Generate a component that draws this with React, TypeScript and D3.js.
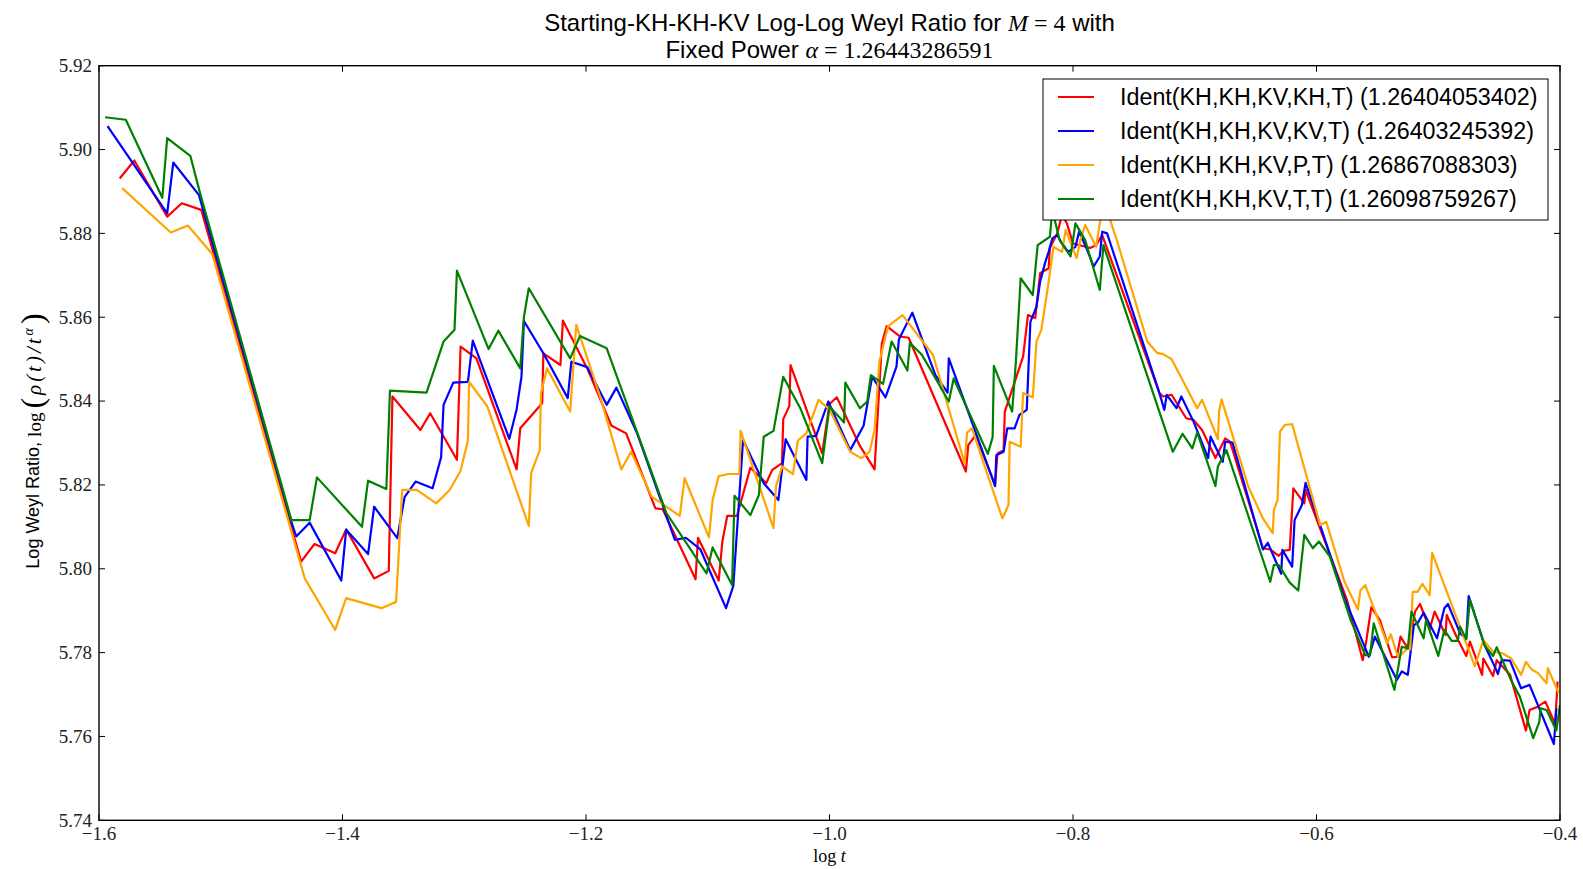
import * as d3 from "d3"

type Pt = [number, number]

const xTicks = [-1.6, -1.4, -1.2, -1.0, -0.8, -0.6, -0.4]
const yTicks = [5.74, 5.76, 5.78, 5.8, 5.82, 5.84, 5.86, 5.88, 5.9, 5.92]

const legendLabels = [
  "Ident(KH,KH,KV,KH,T) (1.26404053402)",
  "Ident(KH,KH,KV,KV,T) (1.26403245392)",
  "Ident(KH,KH,KV,P,T) (1.26867088303)",
  "Ident(KH,KH,KV,T,T) (1.26098759267)",
]
const colors = ["#ff0000", "#0000ff", "#ffa500", "#008000"]

// log t, log Weyl ratio
const redPts: Pt[] = [
  [-1.583, 5.8931], [-1.571, 5.8974], [-1.544, 5.884], [-1.532, 5.8872], [-1.516, 5.8856],
  [-1.434, 5.8017], [-1.423, 5.8059], [-1.406, 5.8037], [-1.397, 5.8094], [-1.374, 5.7977],
  [-1.362, 5.7995], [-1.359, 5.8411], [-1.336, 5.8331], [-1.328, 5.8371], [-1.306, 5.826],
  [-1.303, 5.853], [-1.29, 5.8502], [-1.257, 5.8237], [-1.254, 5.8335], [-1.236, 5.8395],
  [-1.235, 5.8514], [-1.221, 5.8486], [-1.219, 5.8592], [-1.199, 5.8478], [-1.179, 5.8341],
  [-1.167, 5.8323], [-1.143, 5.8144], [-1.137, 5.8142], [-1.11, 5.7975], [-1.108, 5.8074],
  [-1.091, 5.7972], [-1.088, 5.8065], [-1.084, 5.8126], [-1.076, 5.8126], [-1.065, 5.8241],
  [-1.052, 5.8204], [-1.047, 5.8236], [-1.039, 5.8252], [-1.038, 5.8357], [-1.033, 5.8388],
  [-1.032, 5.8486], [-1.006, 5.8275], [-1.0, 5.8393], [-0.994, 5.8409], [-0.975, 5.8293],
  [-0.963, 5.8237], [-0.957, 5.8538], [-0.953, 5.8579], [-0.942, 5.8554], [-0.935, 5.8551],
  [-0.888, 5.8232], [-0.886, 5.8295], [-0.88, 5.8319], [-0.864, 5.82], [-0.862, 5.8275],
  [-0.857, 5.8283], [-0.856, 5.8375], [-0.841, 5.8506], [-0.837, 5.8605], [-0.831, 5.8598],
  [-0.827, 5.8705], [-0.82, 5.8717], [-0.819, 5.8765], [-0.813, 5.88], [-0.809, 5.8844],
  [-0.805, 5.8824], [-0.8, 5.8776], [-0.786, 5.8765], [-0.781, 5.8772], [-0.776, 5.8796],
  [-0.729, 5.8419], [-0.726, 5.8411], [-0.719, 5.8415], [-0.707, 5.8359], [-0.701, 5.8355],
  [-0.694, 5.8331], [-0.683, 5.8264], [-0.675, 5.8311], [-0.671, 5.8303], [-0.644, 5.8049],
  [-0.638, 5.8046], [-0.631, 5.8031], [-0.627, 5.8043], [-0.622, 5.8045], [-0.619, 5.8192],
  [-0.61, 5.8156], [-0.609, 5.8188], [-0.575, 5.7926], [-0.562, 5.7782], [-0.559, 5.783],
  [-0.555, 5.7908], [-0.548, 5.7878], [-0.538, 5.7789], [-0.534, 5.779], [-0.531, 5.7838],
  [-0.525, 5.781], [-0.519, 5.7898], [-0.515, 5.7916], [-0.507, 5.7856], [-0.503, 5.7898],
  [-0.494, 5.7842], [-0.493, 5.789], [-0.485, 5.7838], [-0.477, 5.7792], [-0.474, 5.7826],
  [-0.464, 5.7747], [-0.463, 5.7786], [-0.455, 5.7744], [-0.452, 5.7782], [-0.441, 5.7747],
  [-0.428, 5.7614], [-0.425, 5.7663], [-0.419, 5.767], [-0.412, 5.7683], [-0.404, 5.763],
  [-0.402, 5.7731],
]

const bluePts: Pt[] = [
  [-1.593, 5.9056], [-1.544, 5.8848], [-1.539, 5.8969], [-1.518, 5.8892], [-1.442, 5.8112],
  [-1.438, 5.8077], [-1.427, 5.811], [-1.401, 5.7972], [-1.397, 5.8093], [-1.379, 5.8035],
  [-1.374, 5.8148], [-1.355, 5.8073], [-1.349, 5.8171], [-1.34, 5.8208], [-1.326, 5.8192],
  [-1.319, 5.8266], [-1.317, 5.8391], [-1.309, 5.8444], [-1.297, 5.8446], [-1.293, 5.8544],
  [-1.263, 5.831], [-1.257, 5.838], [-1.253, 5.8458], [-1.251, 5.8591], [-1.235, 5.8514],
  [-1.215, 5.8407], [-1.212, 5.8494], [-1.199, 5.8481], [-1.183, 5.8391], [-1.175, 5.8432],
  [-1.158, 5.8323], [-1.127, 5.8069], [-1.118, 5.8074], [-1.106, 5.8046], [-1.085, 5.7906],
  [-1.079, 5.7959], [-1.071, 5.8307], [-1.054, 5.8204], [-1.042, 5.8164], [-1.036, 5.8309],
  [-1.019, 5.8212], [-1.018, 5.8315], [-1.011, 5.8317], [-1.001, 5.8399], [-0.983, 5.8283],
  [-0.972, 5.8341], [-0.965, 5.8458], [-0.954, 5.8409], [-0.945, 5.8482], [-0.943, 5.8547],
  [-0.932, 5.8611], [-0.913, 5.8462], [-0.903, 5.842], [-0.902, 5.8502], [-0.864, 5.8197],
  [-0.863, 5.8271], [-0.857, 5.8279], [-0.854, 5.8335], [-0.848, 5.8335], [-0.844, 5.8367],
  [-0.838, 5.8379], [-0.835, 5.8589], [-0.83, 5.8625], [-0.827, 5.8685], [-0.823, 5.8729],
  [-0.82, 5.8756], [-0.817, 5.8788], [-0.813, 5.8796], [-0.809, 5.8776], [-0.804, 5.8756],
  [-0.798, 5.8768], [-0.795, 5.8804], [-0.789, 5.8765], [-0.783, 5.8721], [-0.778, 5.8745],
  [-0.776, 5.8804], [-0.772, 5.88], [-0.729, 5.8419], [-0.725, 5.8379], [-0.723, 5.8415],
  [-0.715, 5.8383], [-0.711, 5.8411], [-0.701, 5.8351], [-0.689, 5.8264], [-0.687, 5.8315],
  [-0.677, 5.8255], [-0.675, 5.8303], [-0.669, 5.8301], [-0.644, 5.8046], [-0.64, 5.8062],
  [-0.629, 5.7988], [-0.628, 5.8045], [-0.62, 5.8005], [-0.618, 5.8116], [-0.612, 5.8152],
  [-0.609, 5.8205], [-0.597, 5.8104], [-0.577, 5.793], [-0.557, 5.779], [-0.552, 5.7838],
  [-0.534, 5.7735], [-0.53, 5.7755], [-0.525, 5.7747], [-0.52, 5.7866], [-0.517, 5.787],
  [-0.512, 5.7895], [-0.501, 5.7834], [-0.495, 5.7906], [-0.492, 5.7916], [-0.482, 5.7846],
  [-0.477, 5.7834], [-0.475, 5.7935], [-0.462, 5.7818], [-0.453, 5.7763], [-0.451, 5.7749],
  [-0.448, 5.7782], [-0.441, 5.7781], [-0.432, 5.7715], [-0.425, 5.7723], [-0.405, 5.7582],
  [-0.403, 5.7667],
]

const orangePts: Pt[] = [
  [-1.581, 5.8908], [-1.541, 5.8802], [-1.527, 5.8819], [-1.507, 5.8751], [-1.431, 5.7977],
  [-1.406, 5.7854], [-1.397, 5.793], [-1.368, 5.7906], [-1.356, 5.7921], [-1.351, 5.8188],
  [-1.339, 5.8188], [-1.323, 5.8156], [-1.312, 5.8188], [-1.303, 5.8234], [-1.297, 5.8306],
  [-1.296, 5.8446], [-1.281, 5.8387], [-1.247, 5.8102], [-1.245, 5.8229], [-1.238, 5.8283],
  [-1.237, 5.8419], [-1.232, 5.8478], [-1.213, 5.8375], [-1.208, 5.8582], [-1.188, 5.8407],
  [-1.171, 5.8237], [-1.163, 5.8279], [-1.146, 5.8172], [-1.123, 5.8126], [-1.119, 5.8216],
  [-1.099, 5.8075], [-1.096, 5.8164], [-1.091, 5.8221], [-1.083, 5.8226], [-1.074, 5.8226],
  [-1.073, 5.8329], [-1.046, 5.8097], [-1.044, 5.8196], [-1.039, 5.8244], [-1.03, 5.8226],
  [-1.026, 5.8306], [-1.019, 5.8323], [-1.009, 5.8403], [-1.0, 5.838], [-0.983, 5.8279],
  [-0.974, 5.8264], [-0.967, 5.8279], [-0.963, 5.8331], [-0.959, 5.8494], [-0.952, 5.8578],
  [-0.94, 5.8605], [-0.915, 5.851], [-0.889, 5.8252], [-0.887, 5.8325], [-0.883, 5.8335],
  [-0.858, 5.812], [-0.853, 5.8152], [-0.852, 5.8303], [-0.843, 5.8291], [-0.841, 5.8419],
  [-0.833, 5.8409], [-0.83, 5.8542], [-0.826, 5.857], [-0.821, 5.8665], [-0.819, 5.8705],
  [-0.816, 5.8768], [-0.809, 5.8756], [-0.806, 5.8808], [-0.797, 5.8741], [-0.794, 5.8784],
  [-0.79, 5.882], [-0.781, 5.8768], [-0.775, 5.888], [-0.764, 5.8784], [-0.739, 5.8542],
  [-0.731, 5.8515], [-0.726, 5.8512], [-0.719, 5.85], [-0.698, 5.8383], [-0.694, 5.8403],
  [-0.681, 5.8309], [-0.68, 5.8375], [-0.678, 5.8404], [-0.656, 5.8196], [-0.644, 5.812],
  [-0.636, 5.8085], [-0.635, 5.814], [-0.632, 5.8164], [-0.63, 5.8327], [-0.626, 5.8343],
  [-0.62, 5.8345], [-0.597, 5.8104], [-0.592, 5.8112], [-0.577, 5.7969], [-0.566, 5.7903],
  [-0.564, 5.7948], [-0.56, 5.7961], [-0.542, 5.7822], [-0.539, 5.7844], [-0.533, 5.7789],
  [-0.525, 5.781], [-0.523, 5.7808], [-0.521, 5.7945], [-0.517, 5.7945], [-0.513, 5.7964],
  [-0.507, 5.7937], [-0.505, 5.8038], [-0.47, 5.7768], [-0.466, 5.7802], [-0.463, 5.783],
  [-0.455, 5.7802], [-0.447, 5.7798], [-0.44, 5.7786], [-0.432, 5.7747], [-0.428, 5.7778],
  [-0.423, 5.7759], [-0.418, 5.7751], [-0.411, 5.7727], [-0.41, 5.7763], [-0.401, 5.7703],
]

const greenPts: Pt[] = [
  [-1.595, 5.9077], [-1.578, 5.9071], [-1.548, 5.8885], [-1.544, 5.9027], [-1.525, 5.8985],
  [-1.517, 5.8896], [-1.442, 5.8116], [-1.427, 5.8116], [-1.421, 5.8218], [-1.384, 5.81],
  [-1.379, 5.821], [-1.364, 5.819], [-1.361, 5.8425], [-1.331, 5.842], [-1.317, 5.8542],
  [-1.308, 5.857], [-1.306, 5.8711], [-1.28, 5.8524], [-1.272, 5.8568], [-1.254, 5.8478],
  [-1.251, 5.8601], [-1.247, 5.8669], [-1.213, 5.8502], [-1.205, 5.8555], [-1.183, 5.8526],
  [-1.134, 5.8133], [-1.101, 5.7989], [-1.096, 5.8051], [-1.08, 5.7961], [-1.078, 5.8174],
  [-1.065, 5.8128], [-1.058, 5.8176], [-1.054, 5.8315], [-1.046, 5.8329], [-1.038, 5.8458],
  [-1.024, 5.8383], [-1.006, 5.8252], [-1.0, 5.8387], [-0.988, 5.8349], [-0.987, 5.8444],
  [-0.975, 5.8383], [-0.969, 5.8399], [-0.966, 5.8462], [-0.956, 5.8441], [-0.949, 5.8542],
  [-0.936, 5.8473], [-0.934, 5.8539], [-0.924, 5.851], [-0.902, 5.8399], [-0.898, 5.8454],
  [-0.87, 5.8274], [-0.866, 5.8314], [-0.865, 5.8484], [-0.85, 5.8375], [-0.847, 5.849],
  [-0.843, 5.8693], [-0.833, 5.8653], [-0.829, 5.8772], [-0.819, 5.8792], [-0.817, 5.8856],
  [-0.811, 5.8784], [-0.802, 5.8745], [-0.798, 5.8824], [-0.79, 5.8784], [-0.778, 5.8665],
  [-0.775, 5.8772], [-0.718, 5.8279], [-0.71, 5.8322], [-0.702, 5.8287], [-0.698, 5.8325],
  [-0.683, 5.8197], [-0.681, 5.8244], [-0.674, 5.8283], [-0.638, 5.7969], [-0.635, 5.8009],
  [-0.631, 5.8009], [-0.622, 5.7967], [-0.615, 5.7948], [-0.61, 5.8081], [-0.603, 5.8049],
  [-0.598, 5.8065], [-0.589, 5.8029], [-0.572, 5.7878], [-0.56, 5.7794], [-0.556, 5.7794],
  [-0.553, 5.787], [-0.536, 5.7711], [-0.53, 5.7814], [-0.525, 5.781], [-0.522, 5.7898],
  [-0.512, 5.7834], [-0.51, 5.7878], [-0.5, 5.7792], [-0.495, 5.7854], [-0.489, 5.7828],
  [-0.484, 5.7828], [-0.482, 5.7862], [-0.477, 5.7832], [-0.474, 5.7926], [-0.462, 5.7818],
  [-0.455, 5.7792], [-0.452, 5.7813], [-0.44, 5.7733], [-0.433, 5.7695], [-0.422, 5.7596],
  [-0.417, 5.7635], [-0.416, 5.7667], [-0.411, 5.7663], [-0.403, 5.7614], [-0.4, 5.7675],
]

const series = [redPts, bluePts, orangePts, greenPts]

const W = 1583
const H = 869
const left = 99
const right = 1560
const top = 65.7
const bottom = 820.3

const serif = "'Liberation Serif', 'Times New Roman', serif"
const sans = "'Liberation Sans', Arial, sans-serif"

export default function App() {
  const x = d3.scaleLinear().domain([-1.6, -0.4]).range([left, right])
  const y = d3.scaleLinear().domain([5.74, 5.92]).range([bottom, top])

  const line = d3
    .line<Pt>()
    .x((d) => x(d[0]))
    .y((d) => y(d[1]))

  const tickLen = 6
  const fmtX = (v: number) => v.toFixed(1).replace("-", "\u2212")

  const lg = { x: 1043, y: 79, w: 505, h: 141 }
  const rowY = (i: number) => 97 + i * 34

  return (
    <div style={{ position: "absolute", left: 0, top: 0 }}>
      <svg width={W} height={H} style={{ display: "block", background: "#fff" }}>
        <defs>
          <clipPath id="plot">
            <rect x={left} y={top} width={right - left} height={bottom - top} />
          </clipPath>
        </defs>

        {/* title */}
        <text x={(left + right) / 2} y={31} textAnchor="middle" fontFamily={sans} fontSize={24}>
          Starting-KH-KH-KV Log-Log Weyl Ratio for{" "}
          <tspan fontFamily={serif} fontStyle="italic">M</tspan>
          <tspan fontFamily={serif}> = 4</tspan> with
        </text>
        <text x={(left + right) / 2} y={58} textAnchor="middle" fontFamily={sans} fontSize={24}>
          Fixed Power{" "}
          <tspan fontFamily={serif} fontStyle="italic">α</tspan>
          <tspan fontFamily={serif}> = 1.26443286591</tspan>
        </text>

        <g clipPath="url(#plot)">
          {series.map((pts, i) => (
            <path
              key={i}
              d={line(pts) ?? ""}
              fill="none"
              stroke={colors[i]}
              strokeWidth={2.2}
              strokeLinejoin="round"
            />
          ))}
        </g>

        {/* frame + ticks */}
        <rect
          x={left}
          y={top}
          width={right - left}
          height={bottom - top}
          fill="none"
          stroke="#000"
          strokeWidth={1.4}
        />
        {yTicks.map((t) => (
          <g key={"y" + t}>
            <line x1={left} x2={left + tickLen} y1={y(t)} y2={y(t)} stroke="#000" strokeWidth={1} />
            <line x1={right} x2={right - tickLen} y1={y(t)} y2={y(t)} stroke="#000" strokeWidth={1} />
            <text
              x={left - 7}
              y={y(t)}
              dy="0.33em"
              textAnchor="end"
              fontFamily={serif}
              fontSize={19}
              fill="#222"
            >
              {t.toFixed(2)}
            </text>
          </g>
        ))}
        {xTicks.map((t) => (
          <g key={"x" + t}>
            <line x1={x(t)} x2={x(t)} y1={bottom} y2={bottom - tickLen} stroke="#000" strokeWidth={1} />
            <line x1={x(t)} x2={x(t)} y1={top} y2={top + tickLen} stroke="#000" strokeWidth={1} />
            <text x={x(t)} y={840} textAnchor="middle" fontFamily={serif} fontSize={19} fill="#222">
              {fmtX(t)}
            </text>
          </g>
        ))}

        {/* axis labels */}
        <text x={(left + right) / 2} y={862} textAnchor="middle" fontFamily={serif} fontSize={18}>
          log <tspan fontStyle="italic">t</tspan>
        </text>
        <text
          transform={`translate(39, 441) rotate(-90)`}
          textAnchor="middle"
          fontFamily={sans}
          fontSize={18}
        >
          Log Weyl Ratio,{" "}
          <tspan fontFamily={serif} fontSize={19} dy={2}>log</tspan>
          <tspan fontFamily={serif} fontSize={32} dx={4} dy={2}>(</tspan>
          <tspan fontFamily={serif} fontSize={21} fontStyle="italic" dx={3} dy={-2} letterSpacing={3}>
            ρ(t)/t
          </tspan>
          <tspan fontFamily={serif} fontSize={14} fontStyle="italic" dy={-8}>α</tspan>
          <tspan fontFamily={serif} fontSize={32} dx={4} dy={10}>)</tspan>
        </text>

        {/* legend */}
        <rect x={lg.x} y={lg.y} width={lg.w} height={lg.h} fill="#fff" stroke="#000" strokeWidth={1} />
        {legendLabels.map((lab, i) => (
          <g key={lab}>
            <line x1={1058} x2={1094} y1={rowY(i)} y2={rowY(i)} stroke={colors[i]} strokeWidth={2.2} />
            <text x={1120} y={rowY(i)} dy="0.36em" fontFamily={sans} fontSize={23.3}>
              {lab}
            </text>
          </g>
        ))}
      </svg>
    </div>
  )
}
